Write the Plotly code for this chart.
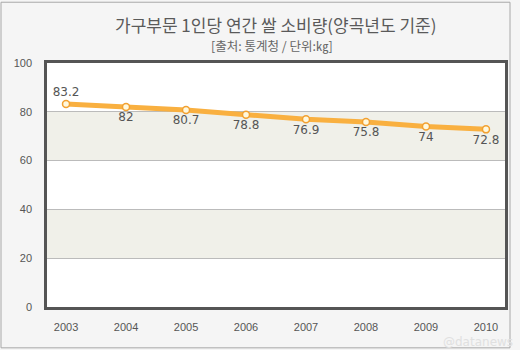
import plotly.graph_objects as go

years = ["2003", "2004", "2005", "2006", "2007", "2008", "2009", "2010"]
consumption = [83.2, 82, 80.7, 78.8, 76.9, 75.8, 74, 72.8]
label_pos = ["top center"] + ["bottom center"] * 7
y_ticks = [0, 20, 40, 60, 80, 100]
bands = [(20, 40), (60, 80)]

title = "가구부문 1인당 연간 쌀 소비량(양곡년도 기준)"
subtitle = "[출처: 통계청 / 단위:㎏]"

fig = go.Figure()
fig.add_trace(go.Scatter(
    x=list(range(len(years))), y=consumption,
    mode="lines+markers+text",
    text=[str(v) for v in consumption],
    textposition=label_pos,
    textfont=dict(family="DejaVu Sans", size=12, color="#555555"),
    line=dict(color="#F9B040", width=5),
    marker=dict(size=7, color="#FFF8DC", line=dict(color="#F2A030", width=1.5)),
    cliponaxis=False,
    hoverinfo="skip",
))

shapes = []
for lo, hi in bands:
    shapes.append(dict(type="rect", xref="paper", yref="y", x0=0, x1=1, y0=lo, y1=hi,
                       fillcolor="#F0F0E9", line=dict(width=0), layer="below"))
# outer border
shapes.append(dict(type="rect", xref="paper", yref="paper", x0=-46/458, x1=(510-47)/458,
                   y0=-(348-307)/245, y1=(307-1)/245, line=dict(color="#A8A8A8", width=1),
                   fillcolor="rgba(0,0,0,0)", layer="below"))

fig.update_layout(
    width=520, height=350,
    margin=dict(l=47, r=15, t=63, b=43),
    paper_bgcolor="#F5F5F5",
    plot_bgcolor="#FFFFFF",
    showlegend=False,
    shapes=shapes,
    xaxis=dict(
        range=[-0.317, 7.317], tickmode="array",
        tickvals=list(range(len(years))), ticktext=years,
        showgrid=False, zeroline=False,
        showline=True, mirror=True, linecolor="#555555", linewidth=2.5,
        ticks="outside", ticklen=8, tickcolor="rgba(0,0,0,0)",
        tickfont=dict(family="Liberation Sans", size=11, color="#555555"),
    ),
    yaxis=dict(
        range=[0, 100], tickmode="array", tickvals=y_ticks,
        showgrid=True, gridcolor="#BBBBBB", gridwidth=1, zeroline=False,
        showline=True, mirror=True, linecolor="#555555", linewidth=2.5,
        ticks="outside", ticklen=10, tickcolor="rgba(0,0,0,0)",
        tickfont=dict(family="Liberation Sans", size=11, color="#555555"),
    ),
    annotations=[
        dict(text=title, xref="paper", yref="paper", x=(276-47)/458, y=(307-23)/245,
             showarrow=False, xanchor="center", yanchor="middle",
             font=dict(family="Noto Sans CJK KR", size=17, color="#5A5A5A")),
        dict(text=subtitle, xref="paper", yref="paper", x=(272-47)/458, y=(307-44)/245,
             showarrow=False, xanchor="center", yanchor="middle",
             font=dict(family="Noto Sans CJK KR", size=12.5, color="#666666")),
        dict(text="@datanews", xref="paper", yref="paper", x=(478-47)/458, y=(307-342)/245,
             showarrow=False, xanchor="center", yanchor="middle",
             font=dict(family="DejaVu Sans", size=12, color="#E0E0E0")),
    ],
)

fig.write_html("out.html")
